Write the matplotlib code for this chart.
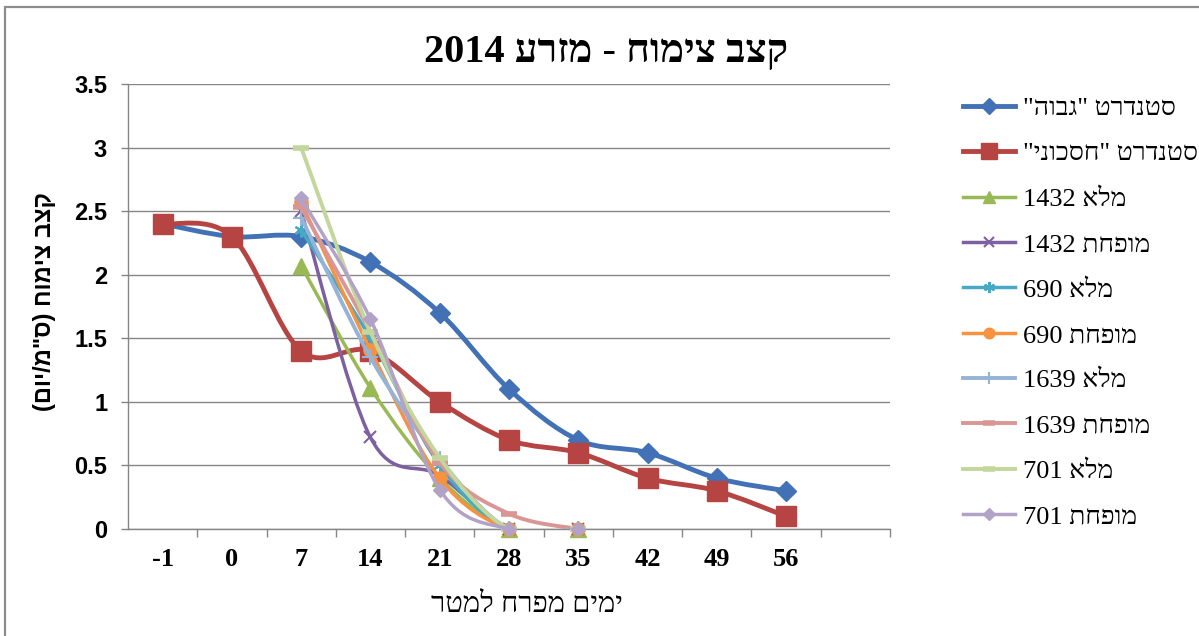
import re
import numpy as np
import matplotlib
matplotlib.use("Agg")
import matplotlib.pyplot as plt
from matplotlib.path import Path
from matplotlib.patches import PathPatch, Rectangle
from matplotlib.lines import Line2D

nan = np.nan

# ימים מפרח למטר
days = ["-1", "0", "7", "14", "21", "28", "35", "42", "49", "56"]

std_high = [2.4, 2.3, 2.3, 2.1, 1.7, 1.1, 0.7, 0.6, 0.4, 0.3]
std_saving = [2.4, 2.3, 1.4, 1.4, 1.0, 0.7, 0.6, 0.4, 0.3, 0.1]
full_1432 = [nan, nan, 2.07, 1.11, 0.4, 0.0, 0.0]
red_1432 = [nan, nan, 2.5, 0.72, 0.42, 0.0, 0.0]
full_690 = [nan, nan, 2.35, 1.5, 0.5, 0.0, 0.0]
red_690 = [nan, nan, 2.57, 1.41, 0.4, 0.0, 0.0]
full_1639 = [nan, nan, 2.45, 1.35, 0.55, 0.0, 0.0]
red_1639 = [nan, nan, 2.53, 1.55, 0.52, 0.12, 0.0]
full_701 = [nan, nan, 3.0, 1.55, 0.56, 0.0, 0.0]
red_701 = [nan, nan, 2.6, 1.65, 0.31, 0.0, 0.0]

names = ['סטנדרט "גבוה"', 'סטנדרט "חסכוני"', 'מלא 1432', 'מופחת 1432',
         'מלא 690', 'מופחת 690', 'מלא 1639', 'מופחת 1639', 'מלא 701', 'מופחת 701']
series = [std_high, std_saving, full_1432, red_1432, full_690, red_690,
          full_1639, red_1639, full_701, red_701]

colors = ["#4272B5", "#B54442", "#98B954", "#7D60A0", "#46AAC5", "#F69240",
          "#95B3D7", "#D99694", "#C3D69B", "#B3A2C7"]
markers = ["D", "s", "^", "x", (6, 2, 0), "o", "+", "_", "_", "D"]
msizes = [10, 15, 11, 9, 10, 9.5, 11, 11, 11, 7.5]
mews = [1, 1, 1, 1.5, 1.5, 1, 1.5, 4, 4, 1]
lws = [3.5, 3.5, 2.5, 2.5, 2.5, 2.5, 2.8, 2.8, 2.8, 2.5]

title = "קצב צימוח - מזרע 2014"
xlabel = "ימים מפרח למטר"
ylabel = 'קצב צימוח (ס"מ/יום)'


def heb(s):
    # matplotlib nezná bidi -> otočit na vizuální pořadí, čísla nechat
    r = s[::-1]
    r = re.sub(r"[0-9.]+", lambda m: m.group(0)[::-1], r)
    return r.translate(str.maketrans("()", ")("))


def smooth_path(x, y):
    """Excelovská vyhlazená čára (Catmull-Rom jako Bezier)."""
    pts = np.column_stack([x, y])
    n = len(pts)
    verts = [pts[0]]
    codes = [Path.MOVETO]
    for i in range(n - 1):
        p0 = pts[max(i - 1, 0)]
        p1 = pts[i]
        p2 = pts[i + 1]
        p3 = pts[min(i + 2, n - 1)]
        verts += [p1 + (p2 - p0) / 6, p2 - (p3 - p1) / 6, p2]
        codes += [Path.CURVE4] * 3
    return Path(verts, codes)


SERIF = ["Liberation Serif", "DejaVu Sans"]
SANS = ["Liberation Sans", "DejaVu Sans"]

fig = plt.figure(figsize=(11.99, 6.36), dpi=100)
ax = fig.add_axes([128 / 1199, 107 / 636, 762 / 1199, 445 / 636])

handles = []
for i, vals in enumerate(series):
    v = np.array(vals, dtype=float)
    x = np.arange(len(v))
    ok = ~np.isnan(v)
    xs, ys = x[ok], v[ok]
    patch = PathPatch(smooth_path(xs, ys), facecolor="none", edgecolor=colors[i],
                      lw=lws[i], zorder=3 + i, capstyle="round", joinstyle="round")
    ax.add_patch(patch)
    ax.plot(xs, ys, linestyle="none", marker=markers[i], ms=msizes[i],
            mfc=colors[i], mec=colors[i], mew=mews[i], zorder=3.5 + i, clip_on=False)
    handles.append(Line2D([], [], color=colors[i], lw=lws[i], marker=markers[i],
                          ms=msizes[i] * 0.8, mfc=colors[i], mec=colors[i], mew=mews[i]))

ax.set_xlim(-0.5, 10.5)
ax.set_ylim(0, 3.5)
ax.set_yticks(np.arange(0, 3.51, 0.5))
ax.set_yticklabels(["0", "0.5", "1", "1.5", "2", "2.5", "3", "3.5"])
ax.set_xticks(range(len(days)))
ax.set_xticklabels(days)
ax.set_xticks(np.arange(0.5, 10.6, 1), minor=True)
ax.tick_params(axis="x", which="major", length=0, pad=14, labelsize=19)
ax.tick_params(axis="x", which="minor", length=6, color="#868686", width=1)
ax.tick_params(axis="y", length=5, color="#868686", width=1, pad=10, labelsize=17)
for lab in ax.get_yticklabels():
    lab.set_family(SANS)
    lab.set_fontweight("bold")
for lab in ax.get_xticklabels():
    lab.set_family(SERIF)
    lab.set_fontweight("bold")
ax.grid(axis="y", color="#868686", lw=1)
ax.set_axisbelow(True)
for s in ["top", "right"]:
    ax.spines[s].set_visible(False)
for s in ["left", "bottom"]:
    ax.spines[s].set_color("#868686")
    ax.spines[s].set_linewidth(1)

fig.text(606 / 1199, 1 - 52 / 636, heb(title), family=SERIF, fontweight="bold",
         fontsize=29, ha="center", va="center")
fig.text(527 / 1199, 1 - 605 / 636, heb(xlabel), family=SERIF, fontsize=21,
         ha="center", va="center")
fig.text(45 / 1199, 1 - 302 / 636, heb(ylabel), family=SANS, fontweight="bold",
         fontsize=17, rotation=90, ha="center", va="center")

leg = fig.legend(handles, [heb(n) for n in names], loc="upper left",
                 bbox_to_anchor=(952 / 1199, 1 - 86 / 636), frameon=False,
                 prop={"family": SERIF, "size": 19}, handlelength=2.0,
                 handletextpad=0.3, labelspacing=0.83, borderaxespad=0)

fig.patches.append(Rectangle((5 / 1199, -0.5), 2, 0.5 + 1 - 7 / 636,
                             transform=fig.transFigure, fill=False,
                             edgecolor="#8C8C8C", lw=1.6))

fig.savefig("out.png", dpi=100)
